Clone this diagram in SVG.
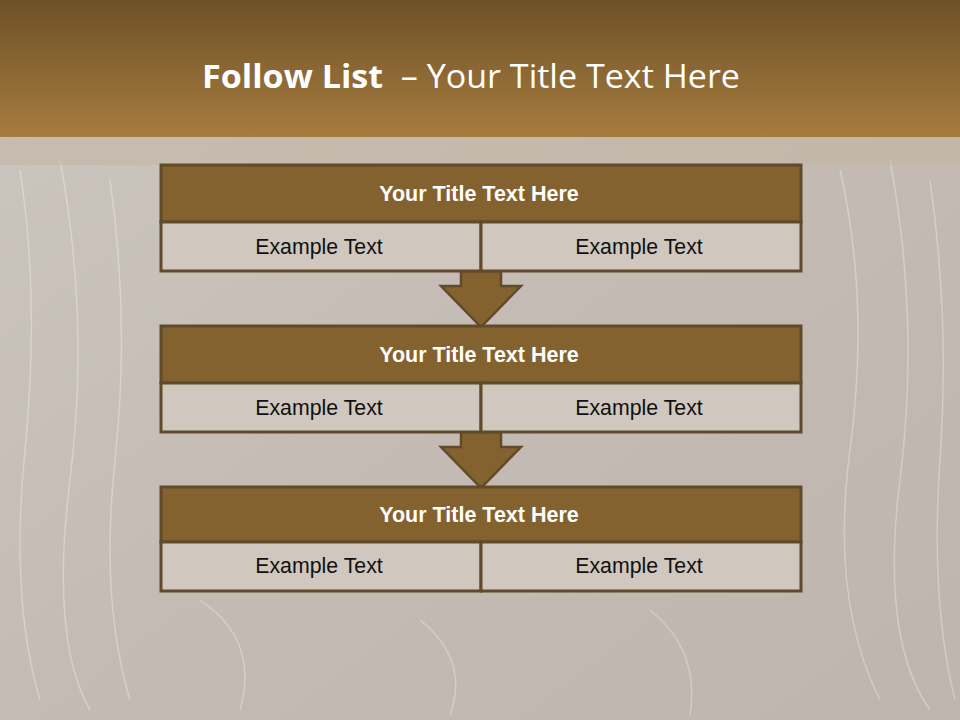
<svg xmlns="http://www.w3.org/2000/svg" width="960" height="720" viewBox="0 0 960 720">
<defs>
<linearGradient id="hdr" x1="0" y1="0" x2="0" y2="1">
<stop offset="0" stop-color="#6d5129"/>
<stop offset="1" stop-color="#a77c3e"/>
</linearGradient>
<linearGradient id="bg" x1="0" y1="0" x2="1" y2="1">
<stop offset="0" stop-color="#cdc6c0"/>
<stop offset="0.5" stop-color="#c4bcb4"/>
<stop offset="1" stop-color="#bdb5ae"/>
</linearGradient>
<style>
.ttl{fill:#84622f;stroke:#5f4a2a;stroke-width:3}
.cell{fill:#d0c8be;stroke:#5f4a2a;stroke-width:3}
.arr{fill:#84622f;stroke:#5f4a2a;stroke-width:2.5;stroke-linejoin:miter}
.th{font-family:"Liberation Sans",Arial,sans-serif;font-weight:bold;font-size:21.5px;fill:#ffffff;text-anchor:middle}
.ct{font-family:"Liberation Sans",Arial,sans-serif;font-size:21.3px;fill:#111111;text-anchor:middle}
.tex{fill:none;stroke:#ffffff;stroke-opacity:0.3;stroke-width:1.5}
</style>
</defs>
<rect x="0" y="0" width="960" height="720" fill="url(#bg)"/>
<g class="tex">
<path d="M20 170 Q40 300 25 450 T40 700"/>
<path d="M60 160 Q90 320 70 480 T90 710"/>
<path d="M110 180 Q130 320 115 460 T130 700"/>
<path d="M840 170 Q870 300 850 450 T880 700"/>
<path d="M890 160 Q920 320 900 480 T930 710"/>
<path d="M930 180 Q950 320 940 460 T955 700"/>
<path d="M200 600 Q260 640 240 710"/>
<path d="M650 610 Q700 650 690 715"/>
<path d="M420 620 Q470 660 450 715"/>
</g>
<rect x="0" y="137" width="960" height="28" fill="#c4b4a2" fill-opacity="0.5"/>
<rect x="0" y="0" width="960" height="137" fill="url(#hdr)"/>
<text x="202" y="88" textLength="538" lengthAdjust="spacingAndGlyphs" style="white-space:pre" font-family="'Open Sans','Liberation Sans',sans-serif" font-size="32" fill="#ffffff"><tspan font-weight="bold">Follow List</tspan><tspan>  – Your Title Text Here</tspan></text>
<g id="connectors">
<polygon class="arr" points="461,271 501,271 501,286 521,286 481,327 441,286 461,286"/>
<polygon class="arr" points="461,432 501,432 501,447 521,447 481,488 441,447 461,447"/>
</g>
<g id="step1">
<rect class="ttl" x="161" y="165" width="640" height="57"/>
<rect class="cell" x="161" y="222" width="320" height="49"/>
<rect class="cell" x="481" y="222" width="320" height="49"/>
<text class="th" x="479" y="201">Your Title Text Here</text>
<text class="ct" x="319" y="254">Example Text</text>
<text class="ct" x="639" y="254">Example Text</text>
</g>
<g id="step2">
<rect class="ttl" x="161" y="326" width="640" height="57"/>
<rect class="cell" x="161" y="383" width="320" height="49"/>
<rect class="cell" x="481" y="383" width="320" height="49"/>
<text class="th" x="479" y="362">Your Title Text Here</text>
<text class="ct" x="319" y="415">Example Text</text>
<text class="ct" x="639" y="415">Example Text</text>
</g>
<g id="step3">
<rect class="ttl" x="161" y="487" width="640" height="55"/>
<rect class="cell" x="161" y="542" width="320" height="49"/>
<rect class="cell" x="481" y="542" width="320" height="49"/>
<text class="th" x="479" y="522">Your Title Text Here</text>
<text class="ct" x="319" y="573">Example Text</text>
<text class="ct" x="639" y="573">Example Text</text>
</g>
</svg>
